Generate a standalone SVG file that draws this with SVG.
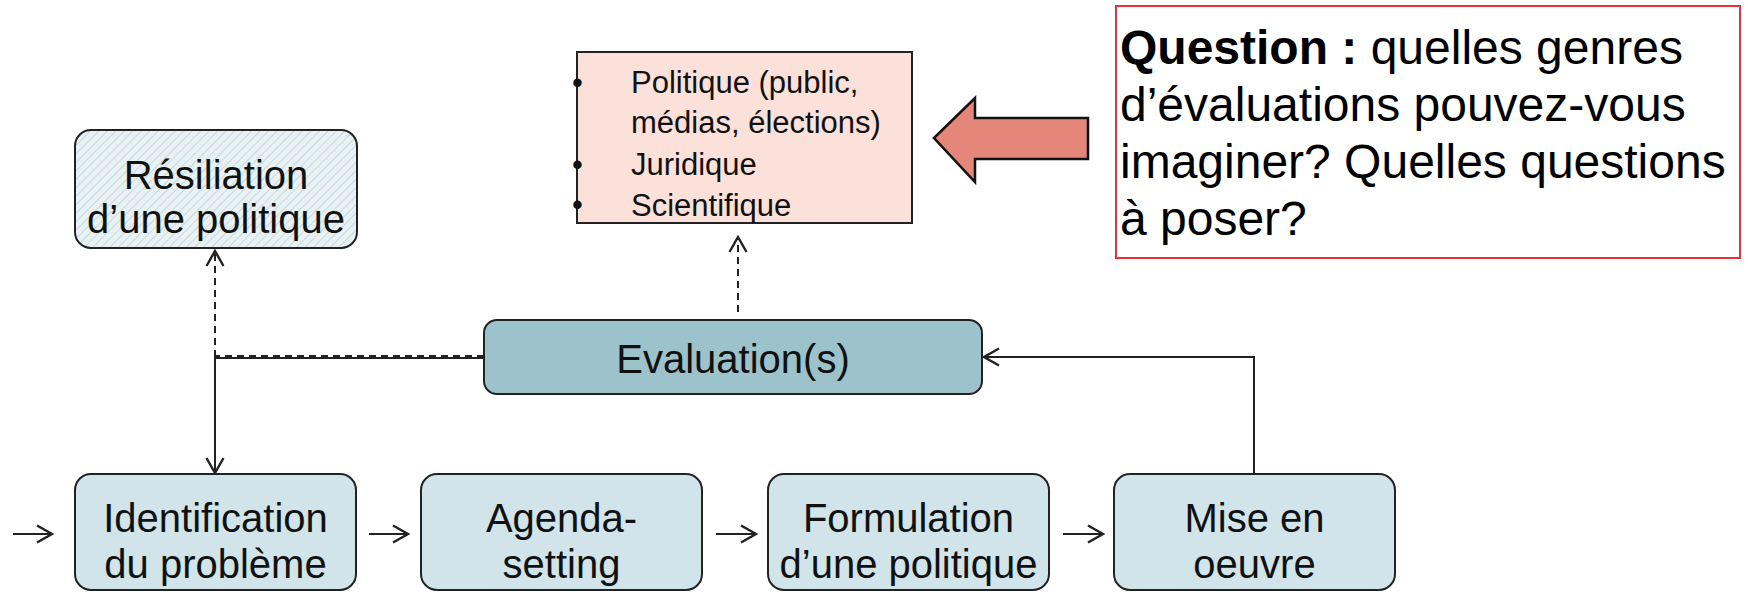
<svg xmlns="http://www.w3.org/2000/svg" width="1748" height="594" viewBox="0 0 1748 594">
<style>
  .node { stroke: #222; stroke-width: 2; }
  .lb { fill: #D0E4EA; }
  .ev { fill: #9CC2CB; }
  .t { font-family: "Liberation Sans", Arial, sans-serif; fill: #111; text-anchor: middle; font-size: 40px; }
  .pt { font-family: "Liberation Sans", Arial, sans-serif; fill: #111; font-size: 31px; }
  .q { font-family: "Liberation Sans", Arial, sans-serif; fill: #000; font-size: 48px; }
  .conn { fill: none; stroke: #222; stroke-width: 2; }
  .dash { stroke-dasharray: 7 5; }
</style>
<defs>
  <pattern id="hatch" patternUnits="userSpaceOnUse" width="6" height="6" patternTransform="rotate(45)">
    <rect width="6" height="6" fill="#E8F1F3"/>
    <line x1="0" y1="0" x2="0" y2="6" stroke="#BFD3D8" stroke-width="1.6"/>
  </pattern>
  <marker id="open" viewBox="0 0 20 20" refX="18" refY="10" markerWidth="20" markerHeight="20" markerUnits="userSpaceOnUse" orient="auto">
    <path d="M3,1.5 L18,10 L3,18.5" fill="none" stroke="#222" stroke-width="2.4"/>
  </marker>
</defs>

<g id="connectors">
  <!-- Evaluation -> Résiliation (dashed) and -> Identification (solid) -->
  <line class="conn" x1="484" y1="358" x2="215" y2="358"/>
  <line class="conn dash" x1="484" y1="356" x2="215" y2="356"/>
  <line class="conn dash" x1="215" y1="357" x2="215" y2="251" marker-end="url(#open)"/>
  <line class="conn" x1="215" y1="357" x2="215" y2="473" marker-end="url(#open)"/>
  <!-- Evaluation -> pink box -->
  <line class="conn dash" x1="738" y1="312" x2="738" y2="237" marker-end="url(#open)"/>
  <!-- Mise en oeuvre -> Evaluation -->
  <polyline class="conn" points="1254,474 1254,357 984,357" marker-end="url(#open)"/>
  <!-- small arrows along the bottom -->
  <line class="conn" x1="13" y1="534" x2="52" y2="534" marker-end="url(#open)"/>
  <line class="conn" x1="369" y1="534" x2="408" y2="534" marker-end="url(#open)"/>
  <line class="conn" x1="716" y1="534" x2="756" y2="534" marker-end="url(#open)"/>
  <line class="conn" x1="1063" y1="534" x2="1103" y2="534" marker-end="url(#open)"/>
</g>

<g id="resiliation">
  <rect class="node" x="75" y="130" width="282" height="118" rx="16" fill="url(#hatch)"/>
  <text class="t" x="216" y="189">Résiliation</text>
  <text class="t" x="216" y="233">d’une politique</text>
</g>

<g id="evaluation">
  <rect class="node ev" x="484" y="320" width="498" height="74" rx="13"/>
  <text class="t" x="733" y="373">Evaluation(s)</text>
</g>

<g id="types">
  <rect x="577" y="52" width="335" height="171" fill="#FBE1D9" stroke="#222" stroke-width="2"/>
  <text class="pt" x="572" y="93">•</text>
  <text class="pt" x="631" y="93">Politique (public,</text>
  <text class="pt" x="631" y="133">médias, élections)</text>
  <text class="pt" x="572" y="175">•</text>
  <text class="pt" x="631" y="175">Juridique</text>
  <text class="pt" x="572" y="215">•</text>
  <text class="pt" x="631" y="216">Scientifique</text>
</g>

<g id="big-arrow">
  <polygon points="934,138 975,98 975,118 1088,118 1088,159 975,159 975,182" fill="#E4877A" stroke="#111" stroke-width="2.5" stroke-linejoin="miter"/>
</g>

<g id="question">
  <rect x="1116" y="6" width="624" height="252" fill="#fff" stroke="#E8323A" stroke-width="2"/>
  <text class="q" x="1120" y="64"><tspan font-weight="bold">Question :</tspan> quelles genres</text>
  <text class="q" x="1120" y="121">d’évaluations pouvez-vous</text>
  <text class="q" x="1120" y="178">imaginer? Quelles questions</text>
  <text class="q" x="1120" y="235">à poser?</text>
</g>

<g id="identification">
  <rect class="node lb" x="75" y="474" width="281" height="116" rx="16"/>
  <text class="t" x="215.5" y="532">Identification</text>
  <text class="t" x="215.5" y="578">du problème</text>
</g>

<g id="agenda">
  <rect class="node lb" x="421" y="474" width="281" height="116" rx="16"/>
  <text class="t" x="561.5" y="532">Agenda-</text>
  <text class="t" x="561.5" y="578">setting</text>
</g>

<g id="formulation">
  <rect class="node lb" x="768" y="474" width="281" height="116" rx="16"/>
  <text class="t" x="908.5" y="532">Formulation</text>
  <text class="t" x="908.5" y="578">d’une politique</text>
</g>

<g id="mise">
  <rect class="node lb" x="1114" y="474" width="281" height="116" rx="16"/>
  <text class="t" x="1254.5" y="532">Mise en</text>
  <text class="t" x="1254.5" y="578">oeuvre</text>
</g>
</svg>
